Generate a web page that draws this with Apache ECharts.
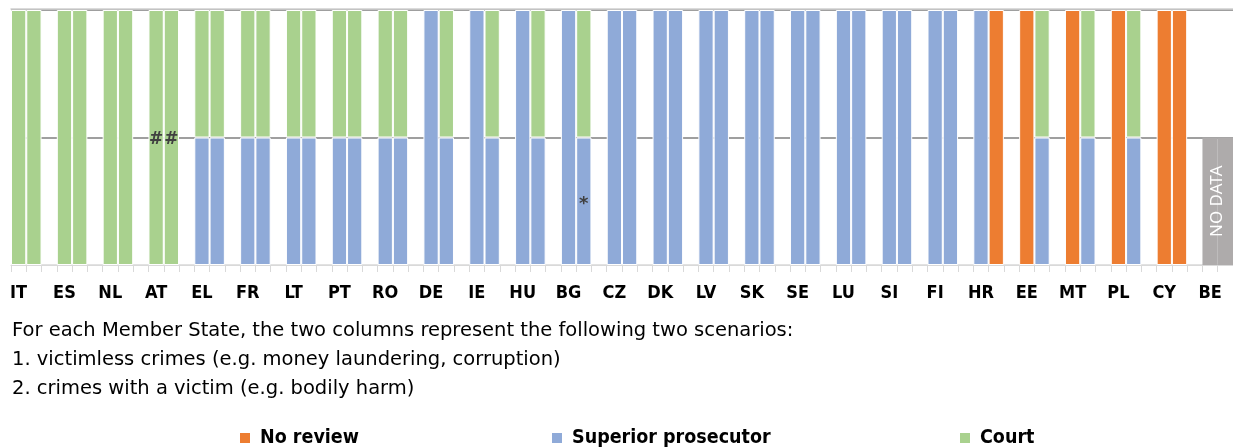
<!DOCTYPE html>
<html>
<head>
<meta charset="utf-8">
<script src="https://cdn.jsdelivr.net/npm/echarts@6/dist/echarts.min.js"></script>
<style>
html,body{margin:0;padding:0;background:#fff;}
#chart{width:1233px;height:448px;}
</style>
</head>
<body>
<div id="chart"></div>
<script>
// Member States, in chart order
const countries = ['IT','ES','NL','AT','EL','FR','LT','PT','RO','DE','IE','HU','BG','CZ','DK','LV','SK','SE','LU','SI','FI','HR','EE','MT','PL','CY','BE'];

// Column 1: victimless crimes (share of column height)
const noReview1  = [0,0,0,0, 0,0,0,0,0, 0,0,0,0, 0,0,0,0,0,0,0,0, 0, 1,1,1, 1, 0];
const superior1  = [0,0,0,0, 0.5,0.5,0.5,0.5,0.5, 1,1,1,1, 1,1,1,1,1,1,1,1, 1, 0,0,0, 0, 0];
const court1     = [1,1,1,1, 0.5,0.5,0.5,0.5,0.5, 0,0,0,0, 0,0,0,0,0,0,0,0, 0, 0,0,0, 0, 0];
const noData1    = [0,0,0,0, 0,0,0,0,0, 0,0,0,0, 0,0,0,0,0,0,0,0, 0, 0,0,0, 0, 0.5];

// Column 2: crimes with a victim
const noReview2  = [0,0,0,0, 0,0,0,0,0, 0,0,0,0, 0,0,0,0,0,0,0,0, 1, 0,0,0, 1, 0];
const superior2  = [0,0,0,0, 0.5,0.5,0.5,0.5,0.5, 0.5,0.5,0.5,0.5, 1,1,1,1,1,1,1,1, 0, 0.5,0.5,0.5, 0, 0];
const court2     = [1,1,1,1, 0.5,0.5,0.5,0.5,0.5, 0.5,0.5,0.5,0.5, 0,0,0,0,0,0,0,0, 0, 0.5,0.5,0.5, 0, 0];
const noData2    = [0,0,0,0, 0,0,0,0,0, 0,0,0,0, 0,0,0,0,0,0,0,0, 0, 0,0,0, 0, 0.5];

// Annotation marks: [country, column, series, symbol]
const annotations = [['AT',1,'Court','#'],['AT',2,'Court','#'],['BG',2,'Superior prosecutor','*']];

const seriesNames = ['No review','Superior prosecutor','Court','No data'];
const colors = {'No review':'#ED7D31','Superior prosecutor':'#8FAAD8','Court':'#A9D18E','No data':'#AEABAB'};
const legendLefts = [238, 550, 958];

const notes = [
  'For each Member State, the two columns represent the following two scenarios:',
  '1. victimless crimes (e.g. money laundering, corruption)',
  '2. crimes with a victim (e.g. bodily harm)'
];

// Build slot categories: col1, col2, gap for each country (no trailing gap)
const slots = [];
const slotCountry = [];
countries.forEach((c, i) => {
  slots.push(c + '-1'); slotCountry.push(c);
  slots.push(c + '-2'); slotCountry.push('');
  if (i < countries.length - 1) { slots.push(c + '-gap'); slotCountry.push(''); }
});

const cols = {
  'No review': [noReview1, noReview2],
  'Superior prosecutor': [superior1, superior2],
  'Court': [court1, court2],
  'No data': [noData1, noData2]
};

function buildData(name) {
  const [a, b] = cols[name];
  const out = [];
  countries.forEach((c, i) => {
    [a[i], b[i]].forEach((v, k) => {
      const item = { value: v === 0 ? '-' : v };
      annotations.forEach(an => {
        if (an[0] === c && an[1] === k + 1 && an[2] === name) {
          const star = an[3] === '*';
          item.label = { show: true, formatter: an[3], position: 'inside', color: '#404040',
            fontSize: star ? 18 : 17, fontWeight: 'bold', fontFamily: 'DejaVu Sans', offset: [0, star ? 3 : 2] };
        }
      });
      if (name === 'No data' && k === 0 && v) {
        item.label = { show: true, formatter: 'NO DATA', position: 'inside', rotate: 90,
          color: '#ffffff', fontSize: 17, fontFamily: 'Noto Sans', offset: [0, 7] };
      }
      out.push(item);
    });
    if (i < countries.length - 1) out.push('-');
  });
  return out;
}

const series = seriesNames.map(name => ({
  name: name,
  type: 'bar',
  stack: 'total',
  barCategoryGap: '0%',
  data: buildData(name),
  itemStyle: {
    color: colors[name],
    borderColor: '#ffffff',
    borderWidth: name === 'No data' ? 0 : 1
  },
  emphasis: { disabled: true },
  animation: false
}));

const labelFont = "'DejaVu Sans Condensed', 'DejaVu Sans', sans-serif";

const chart = echarts.init(document.getElementById('chart'), null, { renderer: 'canvas' });
chart.setOption({
  animation: false,
  title: {
    text: notes.join('\n'),
    left: 12, top: 316, padding: 0,
    textStyle: { fontSize: 19.5, fontWeight: 'normal', color: '#000000', lineHeight: 29, fontFamily: 'DejaVu Sans' }
  },
  legend: seriesNames.slice(0, 3).map((n, i) => ({
    data: [n],
    left: legendLefts[i], top: 428,
    padding: 0,
    itemWidth: 12, itemHeight: 12,
    icon: 'rect',
    selectedMode: false,
    textStyle: { fontSize: 19.5, fontWeight: 'bold', color: '#000000', fontFamily: labelFont, padding: [0, 0, 0, 4] }
  })),
  grid: { left: 11, right: 0, top: 10, bottom: 183, containLabel: false },
  xAxis: [{
    type: 'category',
    data: slots,
    axisLine: { lineStyle: { color: '#d9d9d9', width: 1 } },
    axisTick: { show: true, interval: 0, length: 7, lineStyle: { color: '#d9d9d9' } },
    axisLabel: {
      interval: 0, margin: 19,
      formatter: (v, idx) => slotCountry[idx],
      fontSize: 18, fontWeight: 'bold', color: '#000000', fontFamily: labelFont
    }
  }, {
    type: 'category',
    data: slots,
    position: 'top',
    offset: 1,
    axisLine: { show: true, lineStyle: { color: '#d0d0d0', width: 1.5 } },
    axisTick: { show: false },
    axisLabel: { show: false }
  }],
  yAxis: {
    type: 'value', min: 0, max: 1, interval: 0.5,
    axisLabel: { show: false },
    axisLine: { show: false },
    axisTick: { show: false },
    splitLine: { lineStyle: { color: ['#d9d9d9', '#7f7f7f', '#7f7f7f'], width: 1.5 } }
  },
  series: series
});
</script>
</body>
</html>
